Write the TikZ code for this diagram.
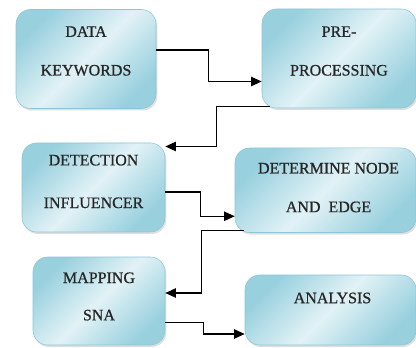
\documentclass[tikz,border=0pt]{standalone}
\usepackage{fontspec}
\setmainfont{Liberation Serif}
\newfontfamily\boxfont[FakeBold=0.7]{Liberation Serif}
\usetikzlibrary{arrows.meta,shadows}
\definecolor{boxblue}{HTML}{98D0DE}
\definecolor{boxlight}{HTML}{E2F2F6}
\definecolor{boxedge}{HTML}{8CC6D6}

\begin{document}
\begin{tikzpicture}[x=0.75pt, y=-0.75pt,
    box/.style = {rounded corners=11pt, draw=boxedge, line width=0.4pt,
        top color=boxblue, bottom color=boxblue, middle color=boxlight, shading angle=45,
        drop shadow={shadow xshift=1pt, shadow yshift=-1.5pt, opacity=.25}},
    txt/.style = {align=center, text=black!85, font=\boxfont\fontsize{12}{29}\selectfont},
    arr/.style = {-{Triangle[length=8pt,width=7pt]}, line width=1pt}]
    \useasboundingbox (0,0) rectangle (416,348);
    \node[box, minimum width=105pt, minimum height=74.25pt,
        label={[txt, yshift=6pt]center:DATA\\KEYWORDS}] (data) at (86,59) {};
    \node[box, minimum width=115.5pt, minimum height=74.25pt,
        label={[txt, yshift=5.6pt]center:PRE-\\PROCESSING}] (pre) at (339,58.5) {};
    \node[box, minimum width=107.25pt, minimum height=66.75pt,
        label={[txt, yshift=4.5pt]center:DETECTION\\[3pt]INFLUENCER}] (detect) at (93.5,187.5) {};
    \node[box, minimum width=135.75pt, minimum height=63.4pt,
        label={[txt, xshift=2.25pt, yshift=2pt]center:DETERMINE NODE\\AND~ EDGE}] (determine) at (325.5,190.25) {};
    \node[box, minimum width=99pt, minimum height=66pt,
        label={[txt, yshift=3.4pt]center:MAPPING\\[-1pt]SNA}] (mapping) at (99,301) {};
    \node[box, minimum width=128.25pt, minimum height=52.5pt,
        label={[txt, xshift=1.5pt, yshift=9pt]center:ANALYSIS}] (analysis) at (330.5,310) {};
    \draw[arr] ([yshift=6.75pt]data.east) -- ++(52,0) |- ([yshift=-17.25pt]pre.west);
    \draw[arr] ([xshift=6pt, yshift=1.5pt]pre.south west) -- ++(-53,0) |- ([yshift=30.75pt]detect.east);
    \draw[arr] ([yshift=-3.5pt]detect.east) -- ++(35,0) |- ([yshift=-19.5pt]determine.west);
    \draw[arr] ([xshift=6.75pt, yshift=1.5pt]determine.south west) -- ++(-42,0) |- ([yshift=6pt]mapping.east);
    \draw[arr] ([yshift=-16pt]mapping.east) -- ++(38,0) |- ([yshift=-18pt]analysis.west);
\end{tikzpicture}
\end{document}
